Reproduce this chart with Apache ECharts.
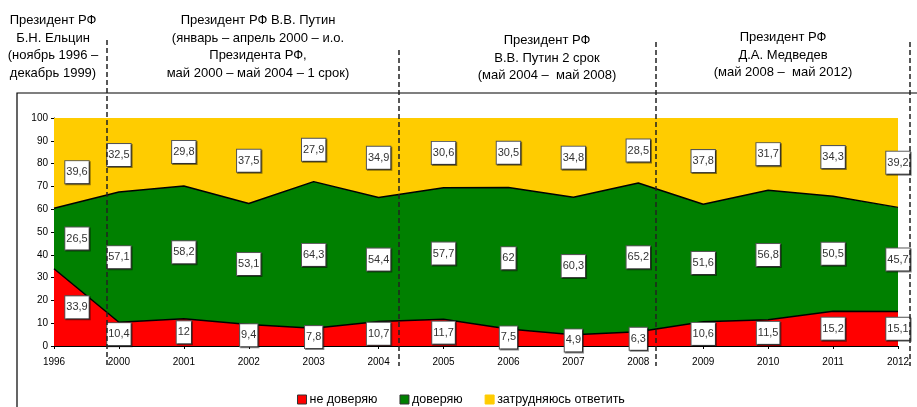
<!DOCTYPE html>
<html>
<head>
<meta charset="utf-8">
<script src="https://cdn.jsdelivr.net/npm/echarts@6/dist/echarts.min.js"></script>
<style>
  html, body { margin: 0; padding: 0; background: #fff; }
  #chart { width: 917px; height: 407px; }
</style>
</head>
<body>
<div id="chart"></div>
<script>
// годы
var years = ['1996', '2000', '2001', '2002', '2003', '2004', '2005', '2006', '2007', '2008', '2009', '2010', '2011', '2012'];
// не доверяю
var notTrust = [33.9, 10.4, 12, 9.4, 7.8, 10.7, 11.7, 7.5, 4.9, 6.3, 10.6, 11.5, 15.2, 15.1];
// доверяю
var trust = [26.5, 57.1, 58.2, 53.1, 64.3, 54.4, 57.7, 62, 60.3, 65.2, 51.6, 56.8, 50.5, 45.7];
// затрудняюсь ответить
var hardToSay = [39.6, 32.5, 29.8, 37.5, 27.9, 34.9, 30.6, 30.5, 34.8, 28.5, 37.8, 31.7, 34.3, 39.2];

var seriesNames = ['не доверяю', 'доверяю', 'затрудняюсь ответить'];

// подписи периодов
var periods = [
  ['Президент РФ', 'Б.Н. Ельцин', '(ноябрь 1996 –', 'декабрь 1999)'],
  ['Президент РФ В.В. Путин', '(январь – апрель 2000 – и.о.', 'Президента РФ,', 'май 2000 – май 2004 – 1 срок)'],
  ['Президент РФ', 'В.В. Путин 2 срок', '(май 2004 –  май 2008)'],
  ['Президент РФ', 'Д.А. Медведев', '(май 2008 –  май 2012)']
];

var myChart = echarts.init(document.getElementById('chart'));

var allData = [notTrust, trust, hardToSay];
var colors = ['#ff0000', '#008000', '#ffcc00'];

/* области */
var areaSeries = allData.map(function (item, index) {
  return {
    name: seriesNames[index],
    type: 'line',
    stack: 'all',
    data: item,
    symbol: 'none',
    lineStyle: { color: '#000', width: index < 2 ? 1.5 : 0 },
    areaStyle: { color: colors[index], opacity: 1 },
    z: 2
  };
});

/* подписи — в середине каждой полосы */
var labelSeries = allData.map(function (item, index) {
  var pts = item.map(function (v, i) {
    var below = 0;
    for (var k = 0; k < index; k++) below += allData[k][i];
    var p = { value: [i, below + v / 2, v] };
    if (i === 0) p.label = { offset: [23, index === 2 ? 9 : 0] };
    return p;
  });
  return {
    type: 'scatter',
    data: pts,
    symbolSize: 1,
    itemStyle: { color: 'rgba(0,0,0,0)', opacity: 1 },
    silent: true,
    z: 5,
    label: {
      show: true,
      position: 'inside',
      opacity: 1,
      formatter: function (p) { return String(p.value[2]).replace('.', ','); },
      fontFamily: 'Liberation Sans, Arial, sans-serif',
      fontSize: 11,
      color: '#333',
      backgroundColor: '#ffffff',
      borderColor: '#555',
      borderWidth: 1,
      padding: [6, 1, 5, 1],
      shadowColor: 'rgba(0,0,0,0.45)',
      shadowOffsetX: 1,
      shadowOffsetY: 1,
      shadowBlur: 0
    }
  };
});

/* надписи сверху и пунктир */
var titleX = [53, 258, 547, 783];
var titleY = [12, 12, 32, 29];
var graphics = periods.map(function (lines, i) {
  return {
    type: 'text',
    x: titleX[i],
    y: titleY[i],
    z: 10,
    style: {
      text: lines.join('\n'),
      align: 'center',
      font: '13px "Liberation Sans", Arial, sans-serif',
      lineHeight: 17.5,
      fill: '#000'
    }
  };
});
// рамка
graphics.push({
  type: 'rect',
  shape: { x: 17, y: 93, width: 940, height: 400 },
  style: { fill: 'none', stroke: '#000', lineWidth: 1.2 },
  z: 0
});
var dashX = [107, 399, 656, 910];
var dashTop = [40, 50, 42, 42];
dashX.forEach(function (x, i) {
  graphics.push({
    type: 'line',
    shape: { x1: x, y1: dashTop[i], x2: x, y2: 366 },
    style: { stroke: '#222', lineWidth: 1.5, lineDash: [5, 3] },
    z: 20
  });
});

var option = {
  animation: false,
  textStyle: { fontFamily: 'Liberation Sans, Arial, sans-serif' },
  grid: { left: 54, right: 19, top: 118, bottom: 61 },
  legend: {
    data: seriesNames.map(function (n, i) {
      return { name: n, itemStyle: { color: colors[i], borderColor: i < 2 ? '#333' : colors[i], borderWidth: 1 } };
    }),
    left: 292,
    top: 388,
    itemWidth: 9,
    itemHeight: 9,
    itemGap: 22,
    icon: 'rect',
    textStyle: { fontSize: 12.5, color: '#000', padding: [0, 0, 0, -2] }
  },
  xAxis: {
    type: 'category',
    data: years,
    boundaryGap: false,
    axisLine: { lineStyle: { color: '#000', width: 1 } },
    axisTick: { lineStyle: { color: '#000' }, length: 3 },
    axisLabel: { fontSize: 10, color: '#000', margin: 11 }
  },
  yAxis: {
    type: 'value',
    min: 0,
    max: 100,
    interval: 10,
    splitLine: { show: false },
    axisLine: { show: true, lineStyle: { color: '#000', width: 1 } },
    axisTick: { show: true, length: 3, lineStyle: { color: '#000' } },
    axisLabel: { fontSize: 10, color: '#000', margin: 6 }
  },
  graphic: graphics,
  series: areaSeries.concat(labelSeries)
};

myChart.setOption(option);
</script>
</body>
</html>
